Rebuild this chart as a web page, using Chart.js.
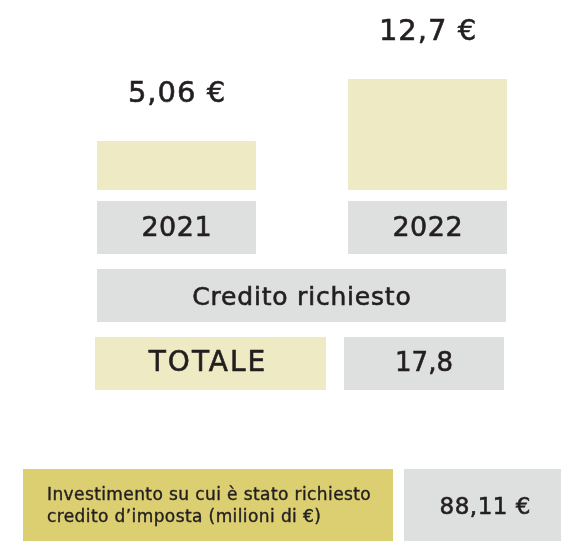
<!DOCTYPE html>
<html>
<head>
<meta charset="utf-8">
<script src="https://cdn.jsdelivr.net/npm/chart.js@4"></script>
<style>
html,body{margin:0;padding:0;background:#fff;}
#wrap{width:561px;height:541px;position:relative;}
</style>
</head>
<body>
<div id="wrap"><canvas id="c" width="561" height="541"></canvas></div>
<script>
const categories = ['2021', '2022'];
const creditValues = [5.06, 12.7];
const valueLabels = ['5,06 €', '12,7 €'];
const creditTitle = 'Credito richiesto';
const totalLabel = 'TOTALE';
const totalValue = '17,8';
const investmentLines = ['Investimento su cui è stato richiesto', 'credito d’imposta (milioni di €)'];
const investmentValue = '88,11 €';

const BEIGE = '#eeeac4';
const GRAY = '#dedfdf';
const YELLOW = '#dccf72';
const INK = '#231f20';
const FONT = '"DejaVu Sans", sans-serif';

function box(ctx, x1, y1, x2, y2, color) {
  ctx.fillStyle = color;
  ctx.fillRect(x1, y1, x2 - x1, y2 - y1);
}
function text(ctx, str, x, y, size, align, spacing, stroke) {
  ctx.font = size + 'px ' + FONT;
  ctx.letterSpacing = (spacing || 0) + 'px';
  ctx.fillStyle = INK;
  ctx.strokeStyle = INK;
  ctx.lineWidth = stroke == null ? 0.6 : stroke;
  ctx.textAlign = align || 'center';
  ctx.textBaseline = 'middle';
  const dx = (align === 'left') ? 0 : (spacing || 0) / 2;
  ctx.fillText(str, x + dx, y);
  if (ctx.lineWidth > 0) ctx.strokeText(str, x + dx, y);
  ctx.letterSpacing = '0px';
}

const infographic = {
  id: 'infographic',
  afterDatasetsDraw(chart) {
    const ctx = chart.ctx;
    ctx.save();
    const meta = chart.getDatasetMeta(0);
    meta.data.forEach((bar, i) => {
      const p = bar.getProps(['x', 'y', 'width'], true);
      text(ctx, valueLabels[i], p.x, p.y - 47, 29, 'center', 1);
      box(ctx, p.x - p.width / 2, 201, p.x + p.width / 2, 254, GRAY);
      text(ctx, categories[i], p.x, 229, 27, 'center', 0.5);
    });
    box(ctx, 97, 269, 506, 322, GRAY);
    text(ctx, creditTitle, 301.5, 298, 25, 'center', 0.8);
    box(ctx, 95, 337, 326, 390, BEIGE);
    text(ctx, totalLabel, 207, 364, 28, 'center', 2);
    box(ctx, 344, 337, 504, 390, GRAY);
    text(ctx, totalValue, 424, 364, 26, 'center', 0);
    box(ctx, 23, 469, 393, 541, YELLOW);
    text(ctx, investmentLines[0], 47, 496, 17, 'left', 0.4, 0.4);
    text(ctx, investmentLines[1], 47, 518, 17, 'left', 0.4, 0.4);
    box(ctx, 404, 469, 561, 541, GRAY);
    text(ctx, investmentValue, 485, 508, 23, 'center', 0.5);
    ctx.restore();
  }
};

new Chart(document.getElementById('c'), {
  type: 'bar',
  data: {
    labels: categories,
    datasets: [{
      data: creditValues,
      base: -0.98,
      backgroundColor: BEIGE,
      borderWidth: 0,
      categoryPercentage: 1,
      barPercentage: 0.633
    }]
  },
  options: {
    responsive: false,
    animation: false,
    devicePixelRatio: 1,
    layout: { padding: { left: 51, right: 8, top: 0, bottom: 351 } },
    plugins: { legend: { display: false }, tooltip: { enabled: false } },
    scales: {
      x: { display: false },
      y: { display: false, min: -0.98, max: 22.43 }
    }
  },
  plugins: [infographic]
});
</script>
</body>
</html>
